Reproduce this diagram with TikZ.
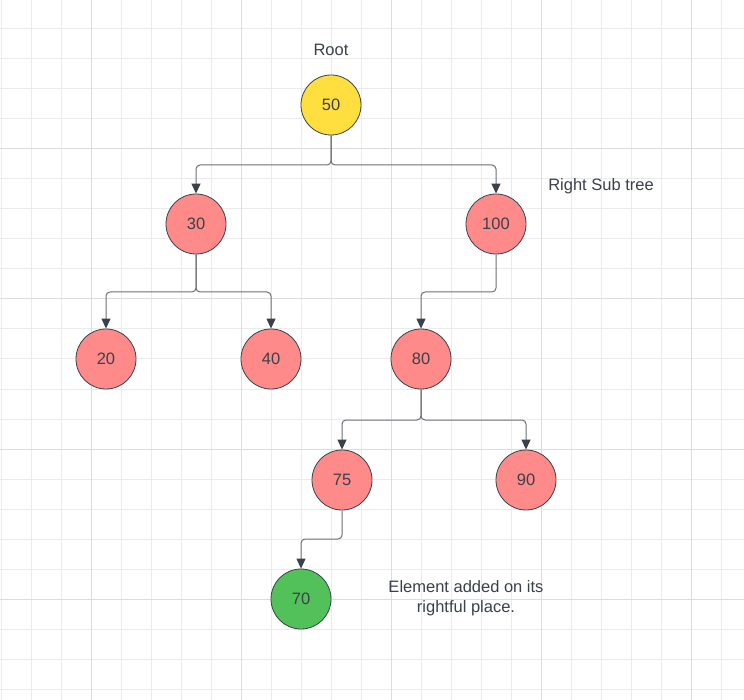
\documentclass[tikz,border=0pt]{standalone}
\usepackage{fontspec}
\setmainfont{Liberation Sans}
\usetikzlibrary{arrows.meta}
\definecolor{ink}{HTML}{3A414A}
\definecolor{gridminor}{HTML}{EBEBEB}
\definecolor{gridmajor}{HTML}{DCDCDC}
\definecolor{yel}{HTML}{FFDF3F}
\definecolor{pnk}{HTML}{FF8A8A}
\definecolor{grn}{HTML}{52C15A}
\definecolor{edgecol}{HTML}{6B6F76}
\begin{document}
\begin{tikzpicture}[x=1pt,y=-1pt,
  every node/.style={font=\fontsize{16.5}{20}\selectfont, text=ink},
  tnode/.style={circle, draw=ink, line width=0.8pt, minimum size=60pt, inner sep=0pt},
  edge/.style={draw=edgecol, line width=1pt, rounded corners=4pt,
    -{Triangle[width=9pt,length=10pt,color=ink,fill=ink]}},
  lbl/.style={align=center}]
\useasboundingbox (0,0) rectangle (744,700);
\fill[white] (0,0) rectangle (744,700);
% grid
\foreach \k in {0,...,24}{
  \pgfmathsetmacro{\xx}{1+30*\k}
  \draw[gridminor, line width=1pt] (\xx,0) -- (\xx,700);
}
\foreach \k in {1,...,23}{
  \pgfmathsetmacro{\yy}{-1+30*\k}
  \draw[gridminor, line width=1pt] (0,\yy) -- (744,\yy);
}
\foreach \xx in {91,241,391,541,691}{\draw[gridmajor, line width=1pt] (\xx,0) -- (\xx,700);}
\foreach \yy in {149,299,449,599}{\draw[gridmajor, line width=1pt] (0,\yy) -- (744,\yy);}
% nodes
\node[tnode, fill=yel] (n50) at (331,105) {50};
\node[tnode, fill=pnk] (n30) at (196,224) {30};
\node[tnode, fill=pnk] (n100) at (496,224) {100};
\node[tnode, fill=pnk] (n20) at (106,359) {20};
\node[tnode, fill=pnk] (n40) at (271,359) {40};
\node[tnode, fill=pnk] (n80) at (421,359) {80};
\node[tnode, fill=pnk] (n75) at (342,480) {75};
\node[tnode, fill=pnk] (n90) at (526,480) {90};
\node[tnode, fill=grn] (n70) at (301,599) {70};
% labels
\node[lbl] (root) at (331,50) {Root};
\node[lbl] (rst) at (601,186) {Right Sub tree};
\node[lbl] (added) at (466,598) {Element added on its\\rightful place.};
% junctions
\coordinate (j50) at (331,165);
\coordinate (j30) at (196,292);
\coordinate (j100) at (496,292);
\coordinate (j80) at (421,420);
\coordinate (j75) at (342,539);
% edges
\draw[edge] (n50.south) -- (j50) -| (n30.north);
\draw[edge] (n50.south) -- (j50) -| (n100.north);
\draw[edge] (n30.south) -- (j30) -| (n20.north);
\draw[edge] (n30.south) -- (j30) -| (n40.north);
\draw[edge] (n100.south) -- (j100) -| (n80.north);
\draw[edge] (n80.south) -- (j80) -| (n75.north);
\draw[edge] (n80.south) -- (j80) -| (n90.north);
\draw[edge] (n75.south) -- (j75) -| (n70.north);
\end{tikzpicture}
\end{document}
